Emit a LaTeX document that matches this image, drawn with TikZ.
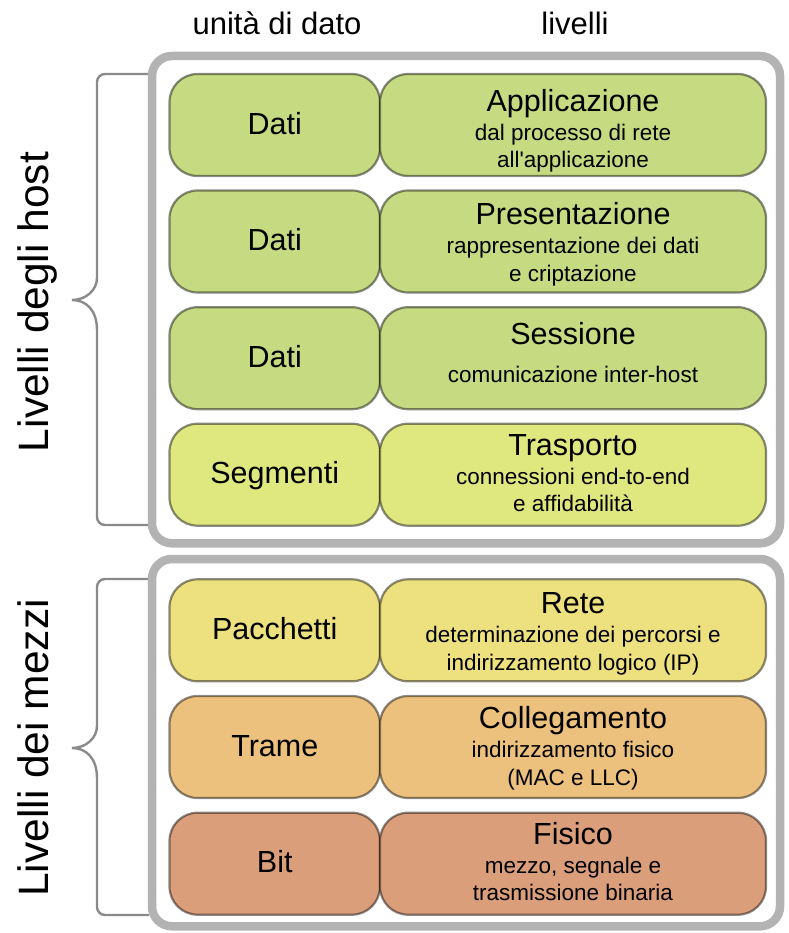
\documentclass[tikz,border=0pt]{standalone}
\usepackage{fontspec}
\setmainfont{Liberation Sans}
\usepackage{tikz}
\definecolor{green1}{HTML}{C5DA81}
\definecolor{green2}{HTML}{DFE77F}
\definecolor{yellow1}{HTML}{EDE07E}
\definecolor{orange1}{HTML}{ECC07D}
\definecolor{red1}{HTML}{DA9E7B}
\definecolor{frame1}{HTML}{B3B3B3}
\definecolor{brace1}{HTML}{8A8A8A}
\newcommand{\tsize}{\fontsize{30.5}{30.5}\selectfont}

\begin{document}
\begin{tikzpicture}[x=1pt, y=-1pt,
    unit/.style={draw=black, draw opacity=0.45, line width=2.2pt, rounded corners=28pt,
      minimum width=210.5pt, minimum height=102pt, inner sep=0pt,
      text height=18.5pt, text depth=0pt, font=\tsize},
    layer/.style={draw=black, draw opacity=0.45, line width=2.2pt, rounded corners=28pt,
      minimum width=386pt, minimum height=102pt, inner sep=0pt},
    desc/.style={align=center, inner sep=0pt, anchor=base, font=\fontsize{22.5}{27.7}\selectfont},
    group/.style={draw=frame1, line width=8.5pt, rounded corners=20pt},
    brace/.style={draw=brace1, line width=2.4pt}]

    \useasboundingbox (0,0) rectangle (788,933);

    % Column headings
    \node[anchor=base, font=\fontsize{31}{31}\selectfont] (hunit) at (277,35) {unità di dato};
    \node[anchor=base, font=\fontsize{31}{31}\selectfont] (hlayer) at (575,35) {livelli};

    % Side braces
    \draw[brace] (149,74) [rounded corners=8pt] -- (97,74) -- (97,270) [sharp corners]
      .. controls (97,290) and (86,300) .. (72,300)
      .. controls (86,300) and (97,310) .. (97,330) [rounded corners=8pt] -- (97,525) -- (149,525);
    \draw[brace] (149,579) [rounded corners=8pt] -- (97,579) -- (97,718) [sharp corners]
      .. controls (97,738) and (86,748) .. (72,748)
      .. controls (86,748) and (97,758) .. (97,778) [rounded corners=8pt] -- (97,915) -- (149,915);

    % Side labels
    \node[rotate=90, anchor=base, font=\fontsize{42.5}{42.5}\selectfont] (host) at (48,302) {Livelli degli host};
    \node[rotate=90, anchor=base, font=\fontsize{42.5}{42.5}\selectfont] (media) at (48,748) {Livelli dei mezzi};

    % Outer groups
    \draw[group] (152,56) rectangle (780,543.3);
    \draw[group] (152,559) rectangle (780,926.3);

    % Applicazione (base = last line)
    \node[unit, fill=green1] (u7) at (274.75,125) {Dati};
    \node[layer, fill=green1] (l7) at (573,125) {};
    \node[desc] (t7) at (573,168) {{\tsize Applicazione}\\[0.7pt] dal processo di rete\\ all\textquotesingle applicazione};

    % Presentazione
    \node[unit, fill=green1] (u6) at (274.75,241.5) {Dati};
    \node[layer, fill=green1] (l6) at (573,241.5) {};
    \node[desc] (t6) at (573,281) {{\tsize Presentazione}\\[0.7pt] rappresentazione dei dati\\ e criptazione};

    % Sessione
    \node[unit, fill=green1] (u5) at (274.75,358.2) {Dati};
    \node[layer, fill=green1] (l5) at (573,358.2) {};
    \node[desc] (t5) at (573,382.3) {{\tsize Sessione}\\[10.3pt] comunicazione inter-host};

    % Trasporto
    \node[unit, fill=green2] (u4) at (274.75,474.7) {Segmenti};
    \node[layer, fill=green2] (l4) at (573,474.7) {};
    \node[desc] (t4) at (573,511.7) {{\tsize Trasporto}\\[0.7pt] connessioni end-to-end\\ e affidabilità};

    % Rete
    \node[unit, fill=yellow1] (u3) at (274.75,630.3) {Pacchetti};
    \node[layer, fill=yellow1] (l3) at (573,630.3) {};
    \node[desc] (t3) at (573,670) {{\tsize Rete}\\[0.7pt] determinazione dei percorsi e\\ indirizzamento logico (IP)};

    % Collegamento
    \node[unit, fill=orange1] (u2) at (274.75,747) {Trame};
    \node[layer, fill=orange1] (l2) at (573,747) {};
    \node[desc] (t2) at (573,785) {{\tsize Collegamento}\\[0.7pt] indirizzamento fisico\\ (MAC e LLC)};

    % Fisico
    \node[unit, fill=red1] (u1) at (274.75,863.7) {Bit};
    \node[layer, fill=red1] (l1) at (573,863.7) {};
    \node[desc] (t1) at (573,900.7) {{\tsize Fisico}\\[0.7pt] mezzo, segnale e\\ trasmissione binaria};

\end{tikzpicture}
\end{document}
